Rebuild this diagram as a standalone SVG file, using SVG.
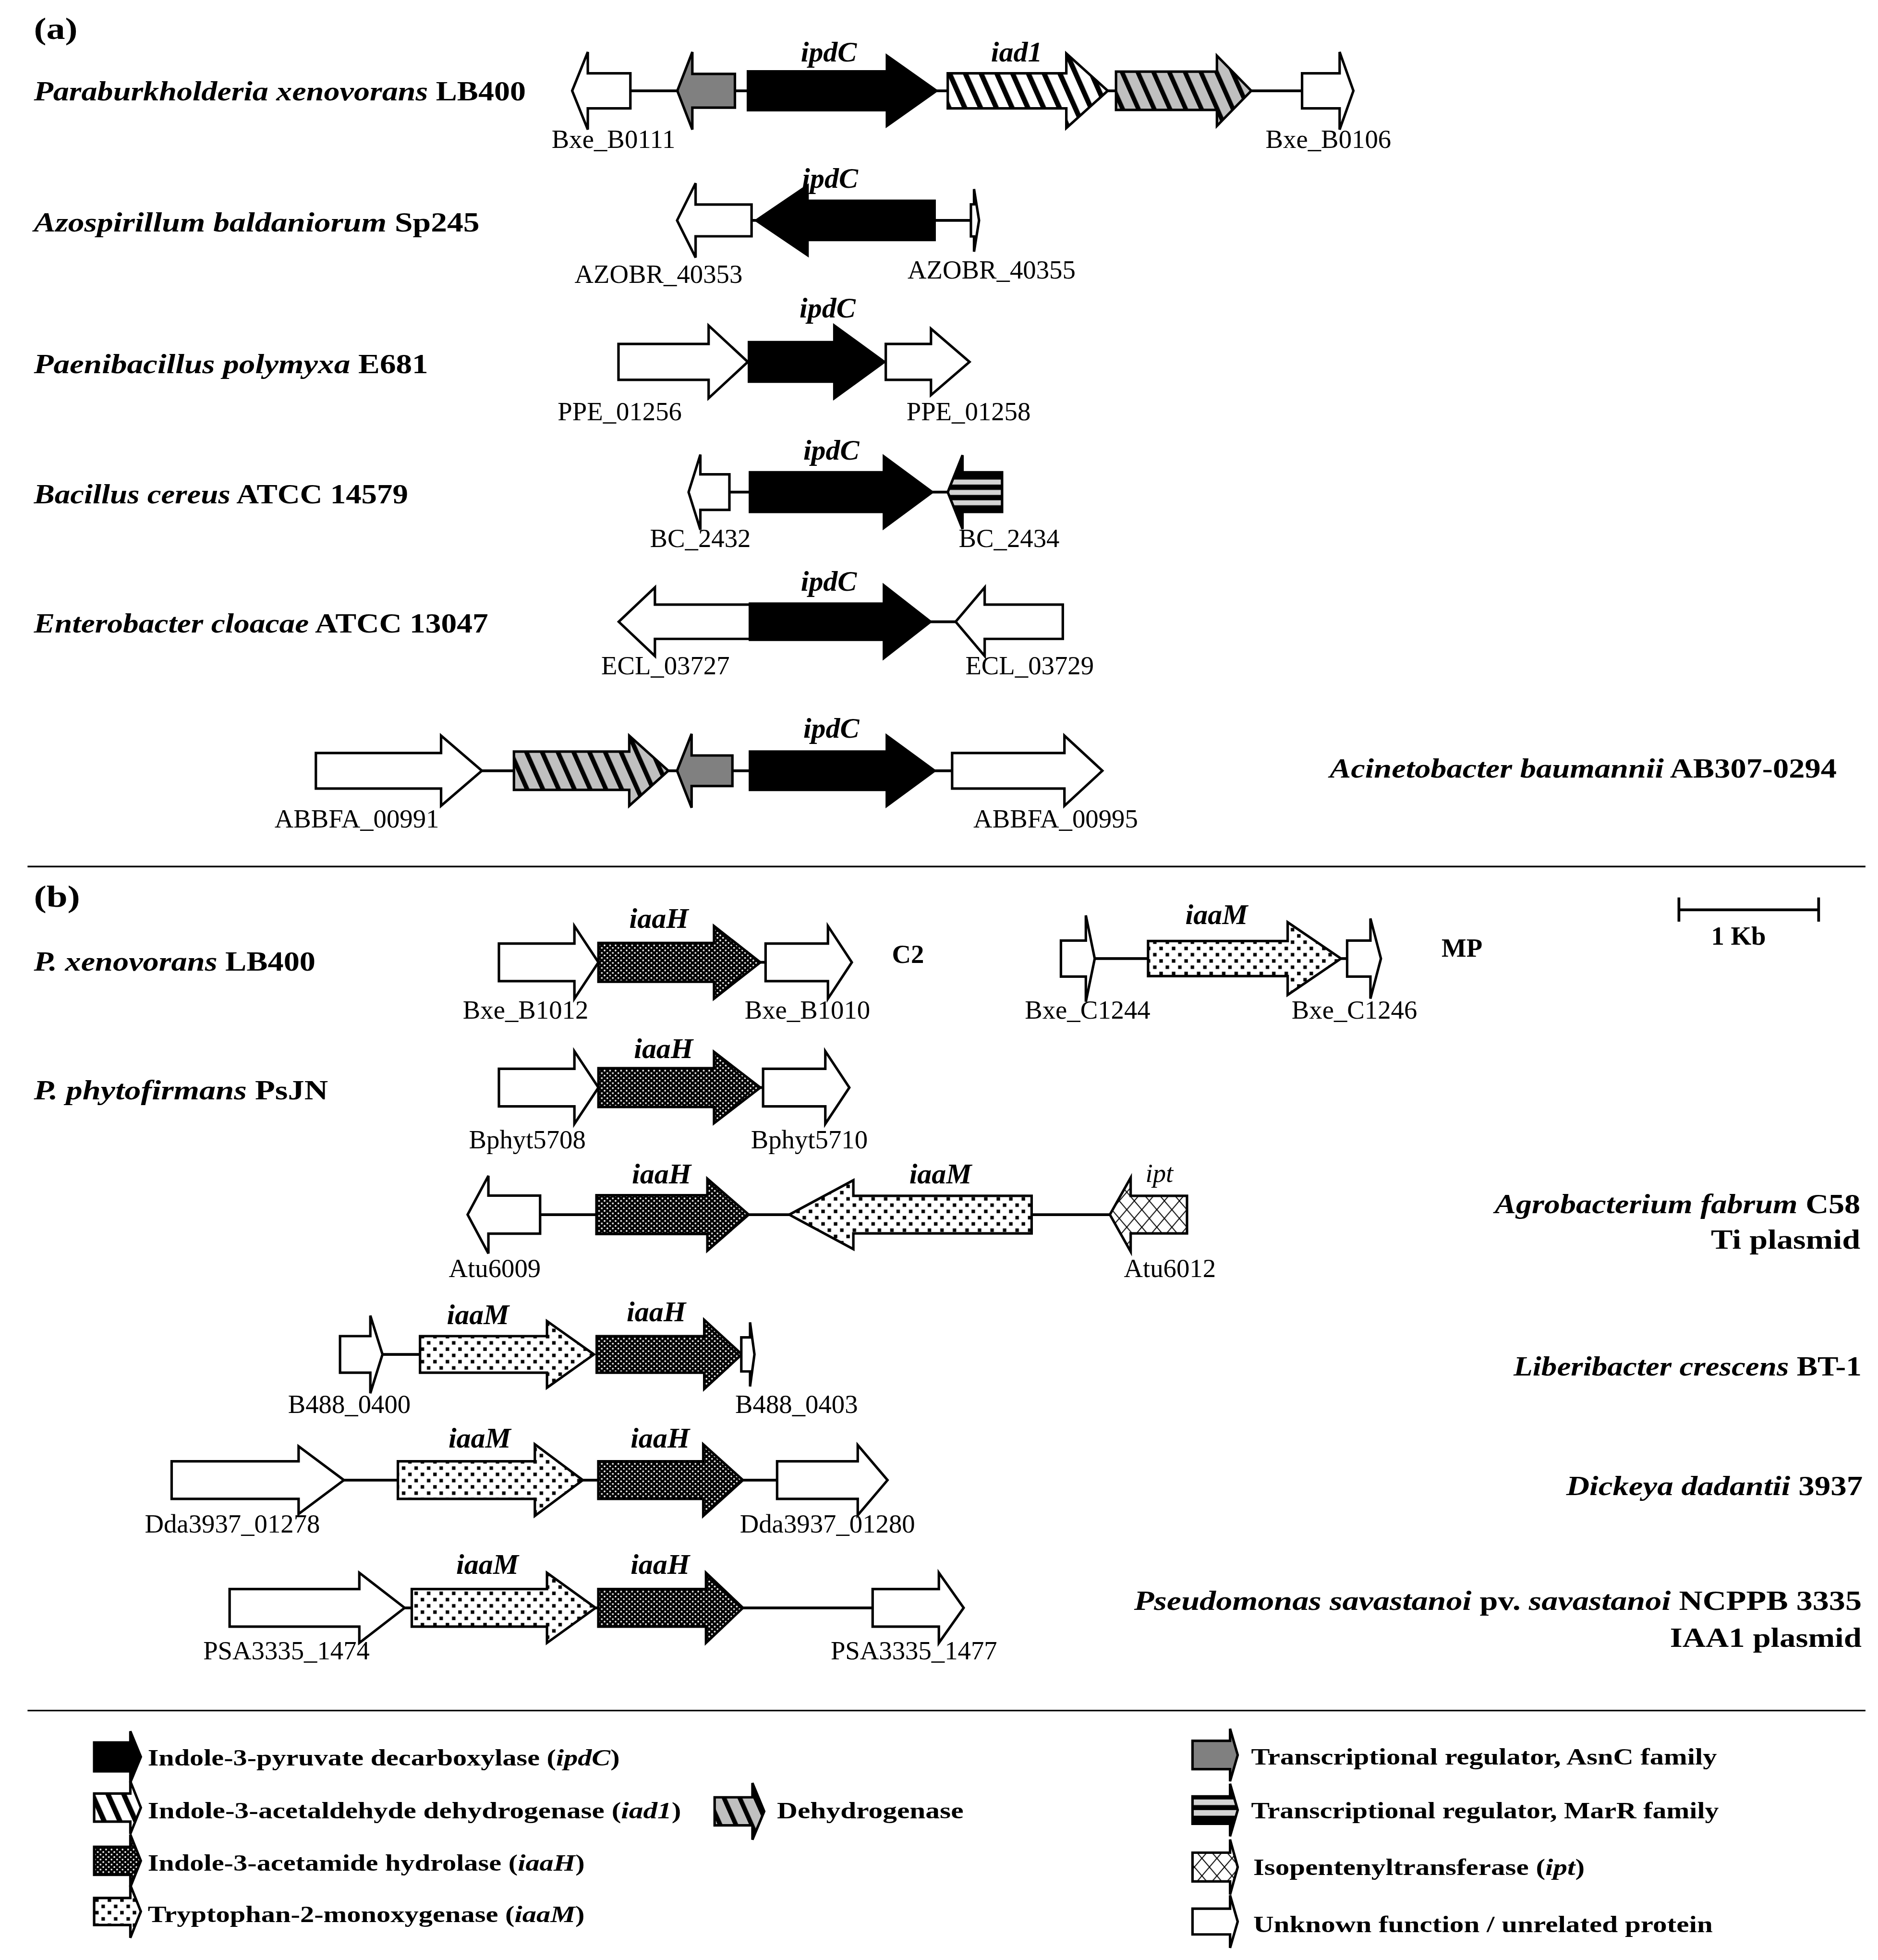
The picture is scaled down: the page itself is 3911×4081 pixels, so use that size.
<svg xmlns="http://www.w3.org/2000/svg" width="3911" height="4081" viewBox="0 0 3911 4081">
<style>
.g{stroke:#000;stroke-width:2;stroke-linejoin:miter}
.w{fill:#fff}.k{fill:#000}.asn{fill:#808080}
.hw{fill:url(#hatchW)}.hg{fill:url(#hatchG)}.sd{fill:url(#stipD)}.sl{fill:url(#stipL)}.cr{fill:url(#cross)}
.ma{fill:url(#marA)}.ml{fill:url(#marL)}
.ln{stroke:#000;stroke-width:2.2;fill:none}
.sep{stroke:#000;stroke-width:1.3}
text{font-family:"Liberation Serif",serif;fill:#000}
.sp{font-size:22px;font-weight:bold}
.sec{font-size:24px;font-weight:bold}
.lt{font-size:21px;text-anchor:middle}
.gn{font-size:23px;font-weight:bold;font-style:italic;text-anchor:middle}
.gr{font-size:21px;font-style:italic;text-anchor:middle}
.lg{font-size:19px;font-weight:bold}
.bd{font-size:21px;font-weight:bold}
.i{font-style:italic}
</style>
<defs>
<pattern id="hatchW" patternUnits="userSpaceOnUse" width="11.5" height="11.5" patternTransform="rotate(-24)">
<rect width="11.5" height="11.5" fill="#fff"/><rect width="4" height="11.5" fill="#000"/>
</pattern>
<pattern id="hatchG" patternUnits="userSpaceOnUse" width="11.5" height="11.5" patternTransform="rotate(-24)">
<rect width="11.5" height="11.5" fill="#c0c0c0"/><rect width="3.6" height="11.5" fill="#000"/>
</pattern>
<pattern id="stipD" patternUnits="userSpaceOnUse" width="4.4" height="4">
<rect width="4.4" height="4" fill="#000"/><circle cx="1.1" cy="1" r="0.7" fill="#fff"/><circle cx="3.3" cy="3" r="0.7" fill="#fff"/>
</pattern>
<pattern id="stipL" patternUnits="userSpaceOnUse" width="10" height="10">
<rect width="10" height="10" fill="#fff"/><rect x="1" y="1" width="2.8" height="2.8" fill="#000"/><rect x="6" y="6" width="2.8" height="2.8" fill="#000"/>
</pattern>
<pattern id="cross" patternUnits="userSpaceOnUse" width="12" height="14">
<rect width="12" height="14" fill="#fff"/><path d="M0,0 L12,14 M12,0 L0,14" stroke="#000" stroke-width="0.8"/>
</pattern>
<pattern id="marA" patternUnits="objectBoundingBox" patternContentUnits="objectBoundingBox" width="1" height="1">
<rect width="1" height="1" fill="#000"/><rect y="0.33" width="1" height="0.068" fill="#d4d4d4"/><rect y="0.47" width="1" height="0.068" fill="#d4d4d4"/><rect y="0.61" width="1" height="0.068" fill="#d4d4d4"/>
</pattern>
<pattern id="marL" patternUnits="objectBoundingBox" patternContentUnits="objectBoundingBox" width="1" height="1">
<rect width="1" height="1" fill="#000"/><rect y="0.298" width="1" height="0.107" fill="#d4d4d4"/><rect y="0.5" width="1" height="0.107" fill="#d4d4d4"/>
</pattern>
</defs>
<rect width="3911" height="4081" fill="#fff"/>
<g transform="scale(2.6073)">

<g id="connectors">
<line class="ln" x1="503.5" y1="72.5" x2="1040" y2="72.5"/>
<line class="ln" x1="600" y1="176" x2="776" y2="176"/>
<line class="ln" x1="582.6" y1="393" x2="757" y2="393"/>
<line class="ln" x1="743" y1="496.5" x2="763.3" y2="496.5"/>
<line class="ln" x1="384.9" y1="615.5" x2="760.5" y2="615.5"/>
<line class="ln" x1="478" y1="768.5" x2="612" y2="768.5"/>
<line class="ln" x1="874.4" y1="765.5" x2="1076" y2="765.5"/>
<line class="ln" x1="606" y1="868.5" x2="610" y2="868.5"/>
<line class="ln" x1="431" y1="970" x2="887" y2="970"/>
<line class="ln" x1="305" y1="1081.6" x2="336" y2="1081.6"/>
<line class="ln" x1="274.7" y1="1182" x2="620.7" y2="1182"/>
<line class="ln" x1="323" y1="1284" x2="697" y2="1284"/>
</g>

<g id="separators">
<line class="sep" x1="22" y1="692" x2="1490" y2="692"/>
<line class="sep" x1="22" y1="1366" x2="1490" y2="1366"/>
</g>

<text class="sec" x="27" y="31" textLength="35" lengthAdjust="spacingAndGlyphs">(a)</text>
<text class="sec" x="27" y="724" textLength="37" lengthAdjust="spacingAndGlyphs">(b)</text>

<!-- (a) row 1 -->
<g id="sp_a1"><text class="sp" x="27" y="80" textLength="393" lengthAdjust="spacingAndGlyphs"><tspan class="i">Paraburkholderia xenovorans</tspan> LB400</text></g>
<g id="Bxe_B0111"><path class="g w" d="M503.5,58.5 H469.5 V41.5 L457,72.5 L469.5,103.5 V86.5 H503.5 Z"/><text class="lt" x="490" y="118">Bxe_B0111</text></g>
<g id="a1_asnc"><path class="g asn" d="M587,59 H553 V41.5 L541,72.5 L553,103.5 V86 H587 Z"/></g>
<g id="a1_ipdC"><path class="g k" d="M597.4,57 H708.4 V44.5 L748,72.5 L708.4,100.5 V88 H597.4 Z"/><text class="gn" x="662" y="49">ipdC</text></g>
<g id="a1_iad1"><path class="g hw" d="M757,58.5 H851.7 V42.7 L884.8,72.5 L851.7,102.3 V86.5 H757 Z"/><text class="gn" x="812" y="49">iad1</text></g>
<g id="a1_dehyd"><path class="g hg" d="M891.4,57.2 H972 V44.5 L999.4,72.5 L972,100.5 V87.8 H891.4 Z"/></g>
<g id="Bxe_B0106"><path class="g w" d="M1040,58.5 H1070 V41.5 L1081,72.5 L1070,103.5 V86.5 H1040 Z"/><text class="lt" x="1061" y="118">Bxe_B0106</text></g>

<!-- (a) row 2 -->
<g id="sp_a2"><text class="sp" x="27" y="185" textLength="356" lengthAdjust="spacingAndGlyphs"><tspan class="i">Azospirillum baldaniorum</tspan> Sp245</text></g>
<g id="AZOBR_40353"><path class="g w" d="M600.3,163.3 H555.6 V146.3 L540.8,176 L555.6,205.7 V188.7 H600.3 Z"/><text class="lt" x="526" y="226">AZOBR_40353</text></g>
<g id="a2_ipdC"><path class="g k" d="M746.5,160.4 H645 V148.2 L604,176 L645,203.8 V191.6 H746.5 Z"/><text class="gn" x="663" y="150">ipdC</text></g>
<g id="AZOBR_40355"><path class="g w" d="M775.5,163.2 H778 V151 L782,176 L778,201 V188.8 H775.5 Z"/><text class="lt" x="792" y="222.6">AZOBR_40355</text></g>

<!-- (a) row 3 -->
<g id="sp_a3"><text class="sp" x="27" y="298" textLength="315" lengthAdjust="spacingAndGlyphs"><tspan class="i">Paenibacillus polymyxa</tspan> E681</text></g>
<g id="PPE_01256"><path class="g w" d="M494,274.7 H566 V260 L597.3,289 L566,318 V303.3 H494 Z"/><text class="lt" x="495" y="335.6">PPE_01256</text></g>
<g id="a3_ipdC"><path class="g k" d="M598.2,273.2 H666.4 V260 L706.3,289 L666.4,318 V304.8 H598.2 Z"/><text class="gn" x="661" y="253.5">ipdC</text></g>
<g id="PPE_01258"><path class="g w" d="M707.5,274.7 H743.6 V262.5 L774.4,289 L743.6,315.5 V303.3 H707.5 Z"/><text class="lt" x="773.6" y="335.6">PPE_01258</text></g>

<!-- (a) row 4 -->
<g id="sp_a4"><text class="sp" x="27" y="402" textLength="299" lengthAdjust="spacingAndGlyphs"><tspan class="i">Bacillus cereus</tspan> ATCC 14579</text></g>
<g id="BC_2432"><path class="g w" d="M582.6,378.8 H559.4 V363 L550,393 L559.4,423 V407.2 H582.6 Z"/><text class="lt" x="559.4" y="436.8">BC_2432</text></g>
<g id="a4_ipdC"><path class="g k" d="M599,377.2 H706 V364.5 L744.6,393 L706,421.5 V408.8 H599 Z"/><text class="gn" x="664" y="367">ipdC</text></g>
<g id="BC_2434"><path class="g ma" d="M800.4,377.2 H768.8 V363.5 L757,393 L768.8,422.5 V408.8 H800.4 Z"/><text class="lt" x="806" y="436.8">BC_2434</text></g>

<!-- (a) row 5 -->
<g id="sp_a5"><text class="sp" x="27" y="505" textLength="363" lengthAdjust="spacingAndGlyphs"><tspan class="i">Enterobacter cloacae</tspan> ATCC 13047</text></g>
<g id="ECL_03727"><path class="g w" d="M599,482.8 H523.1 V469.1 L494.2,496.5 L523.1,523.9 V510.2 H599 Z"/><text class="lt" x="531.5" y="538.5">ECL_03727</text></g>
<g id="a5_ipdC"><path class="g k" d="M599,482.1 H706 V467.5 L743.2,496.5 L706,525.5 V510.9 H599 Z"/><text class="gn" x="662" y="471.6">ipdC</text></g>
<g id="ECL_03729"><path class="g w" d="M848.9,482.8 H786.5 V469.1 L763.3,496.5 L786.5,523.9 V510.2 H848.9 Z"/><text class="lt" x="822.4" y="538.5">ECL_03729</text></g>

<!-- (a) row 6 -->
<g id="sp_a6"><text class="sp" x="1062" y="621" textLength="405" lengthAdjust="spacingAndGlyphs"><tspan class="i">Acinetobacter baumannii</tspan> AB307-0294</text></g>
<g id="ABBFA_00991"><path class="g w" d="M252.3,601.3 H352.3 V587.5 L384.9,615.5 L352.3,643.5 V629.7 H252.3 Z"/><text class="lt" x="285" y="661">ABBFA_00991</text></g>
<g id="a6_dehyd"><path class="g hg" d="M410.5,600.2 H502.6 V587.5 L533.8,615.5 L502.6,643.5 V630.8 H410.5 Z"/></g>
<g id="a6_asnc"><path class="g asn" d="M585,603.3 H552.4 V586 L540.8,615.5 L552.4,645 V627.7 H585 Z"/></g>
<g id="a6_ipdC"><path class="g k" d="M599,600.2 H708.3 V587.5 L746.5,615.5 L708.3,643.5 V630.8 H599 Z"/><text class="gn" x="664" y="589">ipdC</text></g>
<g id="ABBFA_00995"><path class="g w" d="M760.5,601.3 H850.2 V587.5 L880.5,615.5 L850.2,643.5 V629.7 H760.5 Z"/><text class="lt" x="843.2" y="661">ABBFA_00995</text></g>

<!-- (b) row 1 -->
<g id="sp_b1"><text class="sp" x="27" y="775" textLength="225" lengthAdjust="spacingAndGlyphs"><tspan class="i">P. xenovorans</tspan> LB400</text></g>
<g id="Bxe_B1012"><path class="g w" d="M398.5,753.5 H458.8 V739.5 L478,768.5 L458.8,797.5 V783.5 H398.5 Z"/><text class="lt" x="419.8" y="813.4">Bxe_B1012</text></g>
<g id="b1_iaaH"><path class="g sd" d="M478,753 H570.3 V739.5 L607.3,768.5 L570.3,797.5 V784 H478 Z"/><text class="gn" x="526.3" y="741">iaaH</text></g>
<g id="Bxe_B1010"><path class="g w" d="M611.5,753.5 H661.3 V739.5 L680.4,768.5 L661.3,797.5 V783.5 H611.5 Z"/><text class="lt" x="644.9" y="813.4">Bxe_B1010</text></g>
<g id="C2"><text class="bd" x="712.4" y="769">C2</text></g>
<g id="Bxe_C1244"><path class="g w" d="M847.4,751.1 H867.3 V731 L874.4,765.5 L867.3,800 V779.9 H847.4 Z"/><text class="lt" x="868.7" y="813.4">Bxe_C1244</text></g>
<g id="b1_iaaM"><path class="g sl" d="M917,751.5 H1028.5 V736.5 L1071.1,765.5 L1028.5,794.5 V779.5 H917 Z"/><text class="gn" x="971.7" y="738">iaaM</text></g>
<g id="Bxe_C1246"><path class="g w" d="M1076,751.1 H1094.6 V733.5 L1103,765.5 L1094.6,797.5 V779.9 H1076 Z"/><text class="lt" x="1081.8" y="813.4">Bxe_C1246</text></g>
<g id="MP"><text class="bd" x="1151.4" y="764">MP</text></g>
<g id="scalebar">
<line class="ln" x1="1341" y1="726.6" x2="1452.6" y2="726.6"/>
<line class="ln" x1="1341" y1="716.7" x2="1341" y2="736"/>
<line class="ln" x1="1452.6" y1="716.7" x2="1452.6" y2="736"/>
<text class="bd" x="1388.6" y="754.4" text-anchor="middle" font-size="20">1 Kb</text>
</g>

<!-- (b) row 2 -->
<g id="sp_b2"><text class="sp" x="27" y="878" textLength="235" lengthAdjust="spacingAndGlyphs"><tspan class="i">P. phytofirmans</tspan> PsJN</text></g>
<g id="Bphyt5708"><path class="g w" d="M398.5,853.5 H458.8 V839.5 L478,868.5 L458.8,897.5 V883.5 H398.5 Z"/><text class="lt" x="421.2" y="917">Bphyt5708</text></g>
<g id="b2_iaaH"><path class="g sd" d="M478,853 H570.3 V840 L607.3,868.5 L570.3,897 V884 H478 Z"/><text class="gn" x="530" y="845">iaaH</text></g>
<g id="Bphyt5710"><path class="g w" d="M609.5,853.5 H659.2 V839.5 L678.4,868.5 L659.2,897.5 V883.5 H609.5 Z"/><text class="lt" x="646.4" y="917">Bphyt5710</text></g>

<!-- (b) row 3 -->
<g id="Atu6009"><path class="g w" d="M431.4,954.8 H390.1 V939 L373.5,970 L390.1,1001 V985.2 H431.4 Z"/><text class="lt" x="395.2" y="1020">Atu6009</text></g>
<g id="b3_iaaH"><path class="g sd" d="M476.4,954.5 H565 V941.3 L598,970 L565,998.7 V985.5 H476.4 Z"/><text class="gn" x="528.4" y="945">iaaH</text></g>
<g id="b3_iaaM"><path class="g sl" d="M824,955 H681.6 V942.5 L630.4,970 L681.6,997.5 V985 H824 Z"/><text class="gn" x="751.2" y="945">iaaM</text></g>
<g id="Atu6012"><path class="g cr" d="M948.1,955 H903.1 V940.5 L886.5,970 L903.1,999.5 V985 H948.1 Z"/><text class="gr" x="926" y="944">ipt</text><text class="lt" x="934.4" y="1020">Atu6012</text></g>
<g id="sp_b3"><text class="sp" x="1193.9" y="969" textLength="292" lengthAdjust="spacingAndGlyphs"><tspan class="i">Agrobacterium fabrum</tspan> C58</text><text class="sp" x="1366.6" y="997.3" textLength="119.3" lengthAdjust="spacingAndGlyphs">Ti plasmid</text></g>

<!-- (b) row 4 -->
<g id="B488_0400"><path class="g w" d="M271.6,1067 H295.8 V1050.6 L305.5,1081.6 L295.8,1112.6 V1096.2 H271.6 Z"/><text class="lt" x="279" y="1128.3">B488_0400</text></g>
<g id="b4_iaaM"><path class="g sl" d="M335.5,1067 H436.9 V1055 L474.4,1081.6 L436.9,1108.2 V1096.2 H335.5 Z"/><text class="gn" x="381.8" y="1057.6">iaaM</text></g>
<g id="b4_iaaH"><path class="g sd" d="M476.6,1067 H562.5 V1054 L592.5,1081.6 L562.5,1109.2 V1096.2 H476.6 Z"/><text class="gn" x="524.2" y="1055">iaaH</text></g>
<g id="B488_0403"><path class="g w" d="M592.1,1068 H599.1 V1056 L602.6,1081.6 L599.1,1107.2 V1095.2 H592.1 Z"/><text class="lt" x="636.2" y="1128.3">B488_0403</text></g>
<g id="sp_b4"><text class="sp" x="1208.9" y="1098.3" textLength="278" lengthAdjust="spacingAndGlyphs"><tspan class="i">Liberibacter crescens</tspan> BT-1</text></g>

<!-- (b) row 5 -->
<g id="Dda3937_01278"><path class="g w" d="M137.1,1167 H238.5 V1155 L274.7,1182 L238.5,1209 V1197 H137.1 Z"/><text class="lt" x="185.6" y="1223.7">Dda3937_01278</text></g>
<g id="b5_iaaM"><path class="g sl" d="M317.8,1167 H427.2 V1153.4 L465.5,1182 L427.2,1210.6 V1197 H317.8 Z"/><text class="gn" x="383.1" y="1156">iaaM</text></g>
<g id="b5_iaaH"><path class="g sd" d="M477.9,1167 H561.7 V1153.4 L593.4,1182 L561.7,1210.6 V1197 H477.9 Z"/><text class="gn" x="527.3" y="1156">iaaH</text></g>
<g id="Dda3937_01280"><path class="g w" d="M620.7,1167 H685.1 V1154 L708.9,1182 L685.1,1210 V1197 H620.7 Z"/><text class="lt" x="660.9" y="1223.7">Dda3937_01280</text></g>
<g id="sp_b5"><text class="sp" x="1251" y="1194" textLength="236.8" lengthAdjust="spacingAndGlyphs"><tspan class="i">Dickeya dadantii</tspan> 3937</text></g>

<!-- (b) row 6 -->
<g id="PSA3335_1474"><path class="g w" d="M183.4,1269 H287 V1256 L323.2,1284 L287,1312 V1299 H183.4 Z"/><text class="lt" x="228.8" y="1325.2">PSA3335_1474</text></g>
<g id="b6_iaaM"><path class="g sl" d="M328.9,1269 H436.9 V1256 L475.7,1284 L436.9,1312 V1299 H328.9 Z"/><text class="gn" x="389.3" y="1257">iaaM</text></g>
<g id="b6_iaaH"><path class="g sd" d="M477.9,1269 H563.9 V1256 L593.4,1284 L563.9,1312 V1299 H477.9 Z"/><text class="gn" x="527.3" y="1257">iaaH</text></g>
<g id="PSA3335_1477"><path class="g w" d="M697,1269 H749.9 V1256 L769.7,1284 L749.9,1312 V1299 H697 Z"/><text class="lt" x="730" y="1325.2">PSA3335_1477</text></g>
<g id="sp_b6"><text class="sp" x="905.8" y="1285.6" textLength="581.2" lengthAdjust="spacingAndGlyphs"><tspan class="i">Pseudomonas savastanoi</tspan> pv. <tspan class="i">savastanoi</tspan> NCPPB 3335</text><text class="sp" x="1333.9" y="1315.2" textLength="153" lengthAdjust="spacingAndGlyphs">IAA1 plasmid</text></g>

<!-- legend -->
<g id="legend">
<g id="lg_ipdC"><path class="g k" d="M75.2,1391.5 H104.1 V1382.6 L112.5,1403 L104.1,1423.4 V1414.5 H75.2 Z"/><text class="lg" x="118" y="1410" textLength="377" lengthAdjust="spacingAndGlyphs">Indole-3-pyruvate decarboxylase (<tspan class="i">ipdC</tspan>)</text></g>
<g id="lg_iad1"><path class="g hw" d="M75.2,1432.3 H104.1 V1422.5 L112.5,1443.5 L104.1,1464.5 V1454.7 H75.2 Z"/><text class="lg" x="118" y="1452" textLength="426" lengthAdjust="spacingAndGlyphs">Indole-3-acetaldehyde dehydrogenase (<tspan class="i">iad1</tspan>)</text></g>
<g id="lg_iaaH"><path class="g sd" d="M75.2,1474.8 H104.1 V1465 L112.5,1486 L104.1,1507 V1497.2 H75.2 Z"/><text class="lg" x="118" y="1494" textLength="349" lengthAdjust="spacingAndGlyphs">Indole-3-acetamide hydrolase (<tspan class="i">iaaH</tspan>)</text></g>
<g id="lg_iaaM"><path class="g sl" d="M75.2,1515.7 H104.1 V1505.5 L112.5,1526.5 L104.1,1547.5 V1537.3 H75.2 Z"/><text class="lg" x="118" y="1535" textLength="349" lengthAdjust="spacingAndGlyphs">Tryptophan-2-monoxygenase (<tspan class="i">iaaM</tspan>)</text></g>
<g id="lg_dehyd"><path class="g hg" d="M570.8,1435.3 H601 V1423.9 L610.4,1446.5 L601,1469.1 V1457.7 H570.8 Z"/><text class="lg" x="620.6" y="1452" textLength="149" lengthAdjust="spacingAndGlyphs">Dehydrogenase</text></g>
<g id="lg_asnc"><path class="g asn" d="M952.5,1390.2 H982.5 V1380.5 L988.6,1401.5 L982.5,1422.5 V1412.8 H952.5 Z"/><text class="lg" x="999.3" y="1409" textLength="372" lengthAdjust="spacingAndGlyphs">Transcriptional regulator, AsnC family</text></g>
<g id="lg_marr"><path class="g ml" d="M952.5,1434.6 H982.5 V1424.5 L988.6,1445.5 L982.5,1466.5 V1456.4 H952.5 Z"/><text class="lg" x="999.3" y="1452" textLength="373.5" lengthAdjust="spacingAndGlyphs">Transcriptional regulator, MarR family</text></g>
<g id="lg_ipt"><path class="g cr" d="M952.5,1479.5 H982.5 V1469 L988.6,1491 L982.5,1513 V1502.5 H952.5 Z"/><text class="lg" x="1001" y="1497.4" textLength="264.7" lengthAdjust="spacingAndGlyphs">Isopentenyltransferase (<tspan class="i">ipt</tspan>)</text></g>
<g id="lg_unknown"><path class="g w" d="M952.5,1524.2 H982.5 V1513.5 L988.6,1534.5 L982.5,1555.5 V1544.8 H952.5 Z"/><text class="lg" x="1001" y="1542.8" textLength="367" lengthAdjust="spacingAndGlyphs">Unknown function / unrelated protein</text></g>
</g>

</g>
</svg>
